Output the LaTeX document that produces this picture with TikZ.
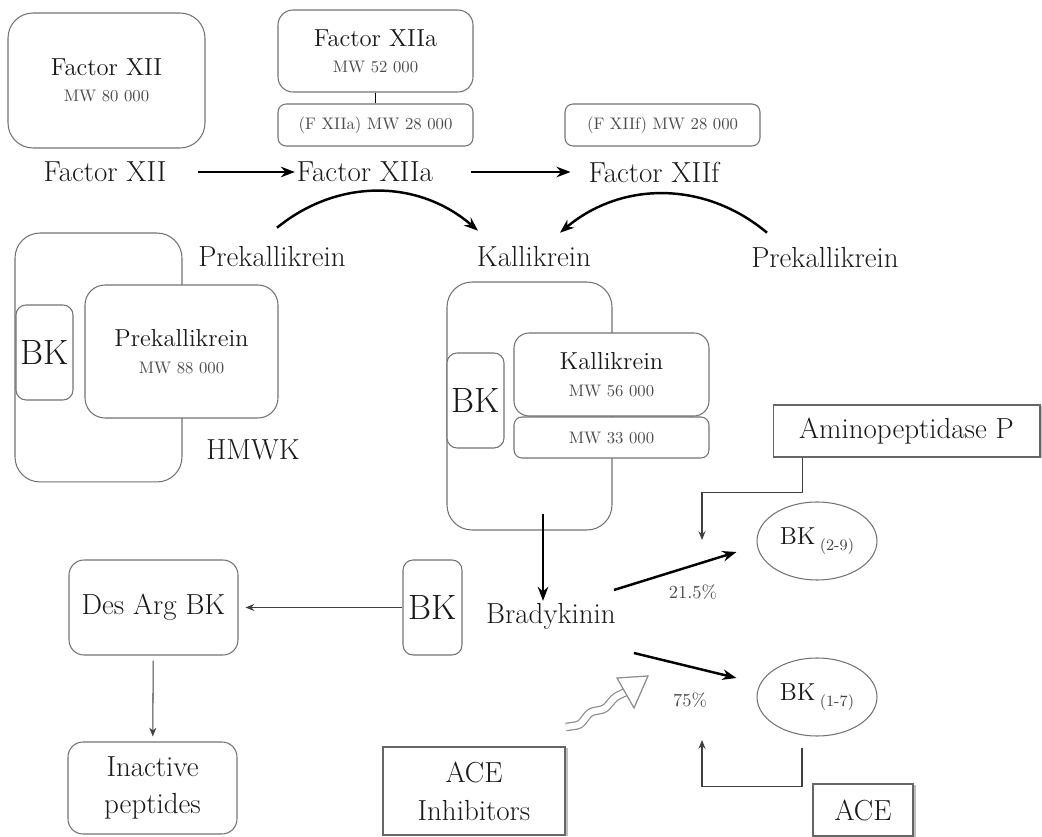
\documentclass[tikz,border=0pt]{standalone}
\usetikzlibrary{arrows.meta,shadows,shapes.geometric}

\newcommand{\mw}[1]{{\fontsize{9.5}{11}\selectfont\color{black!70}#1}}
\newcommand{\frag}[1]{BK\,\raisebox{-3pt}{\fontsize{9}{10}\selectfont\color{black!75}(#1)}}

\begin{document}
\begin{tikzpicture}[x=0.02cm,y=-0.02cm]
    \tikzstyle{rbox}=[draw=black!55, line width=0.6pt, rounded corners=0.3cm, inner sep=0pt, align=center, fill=white, text=black!90, font=\fontsize{14}{15}\selectfont]
    \tikzstyle{sbox}=[draw=black!60, line width=0.6pt, inner sep=0pt, align=center, fill=white, text=black!90, font=\fontsize{16.5}{21.5}\selectfont, drop shadow={shadow xshift=1.5pt, shadow yshift=-0.8pt, opacity=0.5}]
    \tikzstyle{big}=[text=black!90, font=\fontsize{16.5}{19}\selectfont, inner sep=1pt]
    \tikzstyle{bk}=[rbox, rounded corners=0.2cm, font=\fontsize{20}{24}\selectfont, minimum width=1.14cm, minimum height=1.9cm]
    \tikzstyle{fragment}=[draw=black!55, line width=0.6pt, ellipse, minimum width=2.4cm, minimum height=1.56cm, inner sep=0pt, text=black!90, font=\fontsize{14}{15}\selectfont]
    \tikzstyle{pct}=[text=black!70, font=\fontsize{10.5}{12}\selectfont]
    \tikzstyle{thickarr}=[line width=1.4pt, -{Stealth[length=8pt,width=6pt]}]
    \tikzstyle{thinarr}=[line width=0.6pt, draw=black!75, -{Stealth[length=5pt,width=4pt]}]

    \useasboundingbox (0,0) rectangle (1042,837);

    % factor XII and its fragments
    \node[rbox, rounded corners=0.5cm, minimum width=3.94cm, minimum height=2.7cm] at (106.5,80.5) (fxii) {Factor XII\\\mw{MW 80 000}};
    \node[rbox, minimum width=3.9cm, minimum height=1.64cm] at (375.5,51) (fxiia) {Factor XIIa\\\mw{MW 52 000}};
    \node[rbox, rounded corners=0.16cm, minimum width=3.9cm, minimum height=0.84cm] at (375.5,125) (fxiia28) {\mw{(F XIIa) MW 28 000}};
    \node[rbox, rounded corners=0.16cm, minimum width=3.9cm, minimum height=0.84cm] at (662.5,125) (fxiif28) {\mw{(F XIIf) MW 28 000}};
    \draw[line width=0.8pt] (fxiia) -- (fxiia28);

    \node[big] at (105,172) (lxii) {Factor XII};
    \node[big] at (365,172) (lxiia) {Factor XIIa};
    \node[big] at (654,172) (lxiif) {Factor XIIf};
    \draw[thickarr, shorten <=0.6cm] (lxii) -- (lxiia);
    \draw[thickarr, shorten <=0.72cm, shorten >=0.32cm] (lxiia) -- (lxiif);

    \node[big] at (272,257) (prek1) {Prekallikrein};
    \node[big] at (534,257) (kall) {Kallikrein};
    \node[big] at (825,258) (prek2) {Prekallikrein};
    \draw[thickarr] ([shift={(5,-17)}]prek1.north) to[bend left=40] ([shift={(-56,-14)}]kall.north);
    \draw[thickarr] ([shift={(-58,-13)}]prek2.north) to[bend right=40] ([shift={(26,-12)}]kall.north);

    % HMWK complex
    \node[rbox, rounded corners=0.5cm, minimum width=3.34cm, minimum height=4.98cm] at (98.5,357.5) (hmwk) {};
    \node[bk] at (44.5,352.5) (bk1) {BK};
    \node[rbox, rounded corners=0.4cm, minimum width=3.86cm, minimum height=2.66cm] at (181.5,351.5) (prekbox) {Prekallikrein\\\mw{MW 88 000}};
    \node[big] at (253,450) (hmwklbl) {HMWK};

    % kallikrein complex
    \node[rbox, rounded corners=0.5cm, minimum width=3.3cm, minimum height=4.96cm] at (529.5,406) (kcplx) {};
    \node[bk] at (475.5,400.5) (bk2) {BK};
    \node[rbox, minimum width=3.9cm, minimum height=1.66cm] at (611.5,374.5) (kallbox) {Kallikrein\\\mw{MW 56 000}};
    \node[rbox, rounded corners=0.16cm, minimum width=3.9cm, minimum height=0.82cm] at (611.5,437.5) (mw33) {\mw{MW 33 000}};

    % bradykinin and its products
    \node[big] at (551,616) (brady) {Bradykinin};
    \draw[thickarr] ([xshift=0.27cm,yshift=0.34cm]kcplx.south) -- ([xshift=0.27cm]kcplx.south |- brady.north);

    \node[bk, minimum width=1.18cm] at (432.5,607.5) (bk3) {BK};
    \node[rbox, font=\fontsize{16.5}{19}\selectfont, minimum width=3.38cm, minimum height=1.9cm] at (153.5,607.5) (desarg) {Des Arg BK};
    \node[rbox, font=\fontsize{16.5}{21.5}\selectfont, minimum width=3.38cm, minimum height=1.84cm] at (152.5,788) (inact) {Inactive\\peptides};
    \draw[thinarr, shorten >=0.14cm] (bk3) -- (desarg);
    \draw[thinarr, shorten <=0.1cm, shorten >=0.1cm] (desarg) -- (inact);

    \node[fragment] at (817,541) (bk29) {\frag{2-9}};
    \node[fragment] at (817,697) (bk17) {\frag{1-7}};
    \draw[thickarr] ([shift={(-4,-26)}]brady.east) -- ([shift={(-20,11)}]bk29.west);
    \draw[thickarr] ([shift={(16,37)}]brady.east) -- ([shift={(-20,-19)}]bk17.west);
    \node[pct] at (693,592) (p215) {21.5\%};
    \node[pct] at (690,700) (p75) {75\%};

    % enzymes
    \node[sbox, minimum width=5.34cm, minimum height=1.04cm] at (906.5,431) (amino) {Aminopeptidase P};
    \node[sbox, minimum width=2cm, minimum height=1.04cm] at (863,810) (ace) {ACE};
    \node[sbox, minimum width=3.64cm, minimum height=1.76cm] at (474,791) (acei) {ACE\\Inhibitors};

    \coordinate (apin) at (702,540);
    \coordinate (acein) at (702,740);
    \draw[thinarr] ([xshift=-2.09cm]amino.south) -- ++(0,35) -| (apin);
    \draw[thinarr] ([shift={(-15,11)}]bk17.south) -- ++(0,39) -| (acein);

    % inhibition arrow
    \draw[black!45, line width=0.7pt, double=white, double distance=3.5pt, rounded corners=2pt] (566,727) -- (580,725) -- (590,712) -- (605,709) -- (615,697) -- (628,691);
    \draw[black!45, line width=0.7pt, fill=white] (617,678) -- (648,676) -- (634,708) -- cycle;
\end{tikzpicture}
\end{document}
